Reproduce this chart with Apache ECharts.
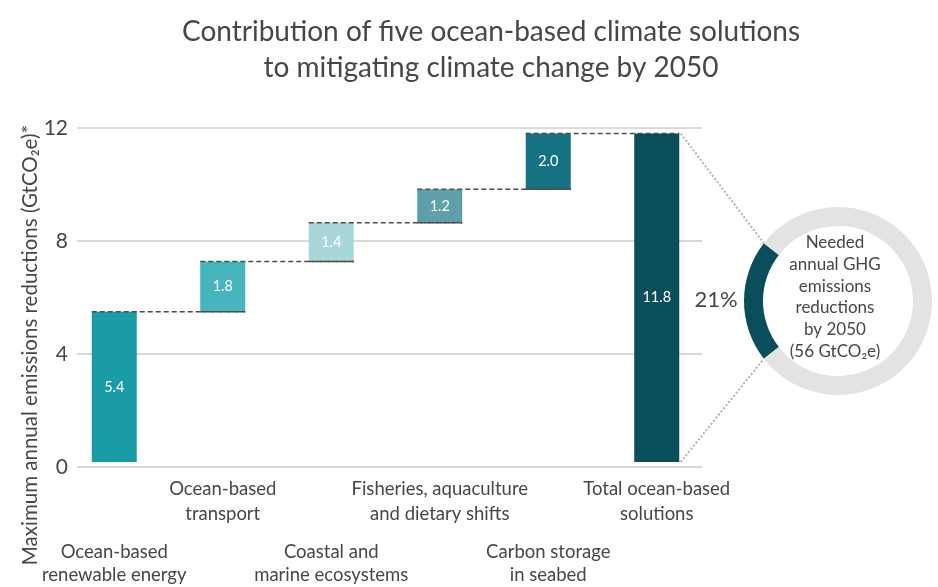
<!DOCTYPE html>
<html>
<head>
<meta charset="utf-8">
<script src="https://cdn.jsdelivr.net/npm/echarts@6/dist/echarts.min.js"></script>
<style>
html,body{margin:0;padding:0;background:#fff;}
#chart{width:938px;height:587px;}
</style>
</head>
<body>
<div id="chart"></div>
<script>
// ---- data ----
const categories = [
  'Ocean-based\nrenewable energy',
  'Ocean-based\ntransport',
  'Coastal and\nmarine ecosystems',
  'Fisheries, aquaculture\nand dietary shifts',
  'Carbon storage\nin seabed',
  'Total ocean-based\nsolutions'
];
const contributions = [5.4, 1.8, 1.4, 1.2, 2.0];
const totalValue = 11.8;
const neededTotal = 56;
const yTicks = [0, 4, 8, 12];
const barColors = ['#1a9ca6', '#47b5bd', '#a9d7d9', '#5f9fa9', '#147282', '#0b4e5b'];

// ---- derived ----
const bases = [];
let run = 0;
contributions.forEach(v => { bases.push(run); run += v; });
bases.push(0);
const barValues = contributions.concat([totalValue]);
const tops = barValues.map((v, i) => +(bases[i] + v).toFixed(2));

const FONT = 'Lato, "Open Sans", sans-serif';
const TXT = '#474747';

const chart = echarts.init(document.getElementById('chart'));

const option = {
  animation: false,
  textStyle: { fontFamily: FONT },
  title: {
    text: 'Contribution of five ocean-based climate solutions\nto mitigating climate change by 2050',
    left: 486, top: 9, textAlign: 'center',
    textStyle: { fontFamily: FONT, fontSize: 28, fontWeight: 'normal', color: TXT, lineHeight: 36 }
  },
  grid: [
    { left: 77, right: 236, top: 128, bottom: 120 },
    { left: 60, right: 227, top: 128, bottom: 120 }
  ],
  xAxis: [
    { gridIndex: 0, type: 'value', show: false, min: 0, max: 1 },
    {
      gridIndex: 1, type: 'category', data: categories,
      axisLine: { show: false }, axisTick: { show: false },
      axisLabel: {
        interval: 0, margin: 15, fontSize: 18.5, color: TXT, lineHeight: 25, fontFamily: FONT,
        formatter: (v, i) => (i % 2 === 1 ? v : '')
      }
    },
    {
      gridIndex: 1, type: 'category', data: categories, position: 'bottom',
      axisLine: { show: false }, axisTick: { show: false },
      axisLabel: {
        interval: 0, margin: 78, fontSize: 18.5, color: TXT, lineHeight: 23.5, fontFamily: FONT,
        formatter: (v, i) => (i % 2 === 0 ? v : '')
      }
    }
  ],
  yAxis: [
    {
      gridIndex: 0, type: 'value', min: 0, max: 12, interval: 4,
      axisLine: { show: false }, axisTick: { show: false },
      axisLabel: { fontSize: 21, color: TXT, margin: 9, fontFamily: FONT },
      splitLine: { lineStyle: { color: '#d9d9d9', width: 2 } }
    },
    {
      gridIndex: 1, type: 'value', min: 0, max: 12, interval: 4, show: false,
      splitLine: { show: false }
    }
  ],
  series: [
    {
      type: 'bar', xAxisIndex: 1, yAxisIndex: 1, stack: 'w',
      data: bases, barWidth: 45, itemStyle: { color: 'transparent' }, silent: true
    },
    {
      type: 'bar', xAxisIndex: 1, yAxisIndex: 1, stack: 'w', barWidth: 45,
      data: barValues.map((v, i) => ({ value: v, itemStyle: { color: barColors[i] } })),
      label: {
        show: true, position: 'inside', color: '#fff', fontSize: 14.5, fontFamily: FONT,
        formatter: p => p.value.toFixed(1)
      }
    },
    {
      // dashed connectors and bar edges
      type: 'custom', xAxisIndex: 1, yAxisIndex: 1, silent: true, z: 5,
      data: tops.slice(0, 5).map((t, i) => [i, t, bases[i]]),
      renderItem: function (params, api) {
        const i = api.value(0);
        const top = api.value(1);
        const base = api.value(2);
        const half = 22.5;
        const p0 = api.coord([i, top]);
        const p1 = api.coord([i + 1, top]);
        const b0 = api.coord([i, base]);
        const style = { stroke: '#4d4d4d', lineWidth: 1.5, lineDash: [5, 3] };
        const children = [
          { type: 'line', shape: { x1: p0[0] - half, y1: p0[1], x2: p1[0] + half, y2: p1[1] }, style: style }
        ];
        if (base > 0) {
          children.push({ type: 'line', shape: { x1: b0[0] - half, y1: b0[1], x2: b0[0] + half, y2: b0[1] }, style: style });
        }
        return { type: 'group', children: children };
      }
    },
    {
      type: 'pie', center: [838, 301], radius: [75, 94],
      startAngle: 180 + 180 * totalValue / neededTotal, clockwise: true,
      silent: true, label: { show: false }, labelLine: { show: false },
      data: [
        { value: totalValue, itemStyle: { color: '#0b4e5b' } },
        { value: +(neededTotal - totalValue).toFixed(2), itemStyle: { color: '#e3e3e3' } }
      ]
    }
  ],
  graphic: [
    {
      type: 'text', x: 30, y: 345, rotation: Math.PI / 2,
      style: {
        text: 'Maximum annual emissions reductions (GtCO\u2082e)*',
        fontSize: 20.5, fontFamily: FONT, fill: TXT, align: 'center', verticalAlign: 'middle'
      }
    },
    {
      type: 'text', x: 716, y: 300,
      style: { text: Math.round(100 * totalValue / neededTotal) + '%', fontSize: 22, fontFamily: FONT, fill: TXT, align: 'center', verticalAlign: 'middle' }
    },
    {
      type: 'text', x: 835, y: 297,
      style: {
        text: 'Needed\nannual GHG\nemissions\nreductions\nby 2050\n(' + neededTotal + ' GtCO\u2082e)',
        fontSize: 17, lineHeight: 21.8, fontFamily: FONT, fill: TXT, align: 'center', verticalAlign: 'middle'
      }
    }
  ]
};

chart.setOption(option);

// dotted connector lines from total bar to donut arc ends
const topPt = chart.convertToPixel({ xAxisIndex: 1, yAxisIndex: 1 }, [5, totalValue]);
const botPt = chart.convertToPixel({ xAxisIndex: 1, yAxisIndex: 1 }, [5, 0]);
const halfAng = Math.PI * totalValue / neededTotal;
const cx = 838, cy = 301, R = 94;
const ex = cx - R * Math.cos(halfAng);
const eyTop = cy - R * Math.sin(halfAng);
const eyBot = cy + R * Math.sin(halfAng);
const dotStyle = { stroke: '#b3b3b3', lineWidth: 2, lineDash: [2, 2] };
chart.setOption({
  graphic: option.graphic.concat([
    { type: 'line', shape: { x1: topPt[0] + 24, y1: topPt[1], x2: ex, y2: eyTop }, style: dotStyle, z: 1 },
    { type: 'line', shape: { x1: botPt[0] + 24, y1: botPt[1], x2: ex, y2: eyBot }, style: dotStyle, z: 1 }
  ])
});
</script>
</body>
</html>
